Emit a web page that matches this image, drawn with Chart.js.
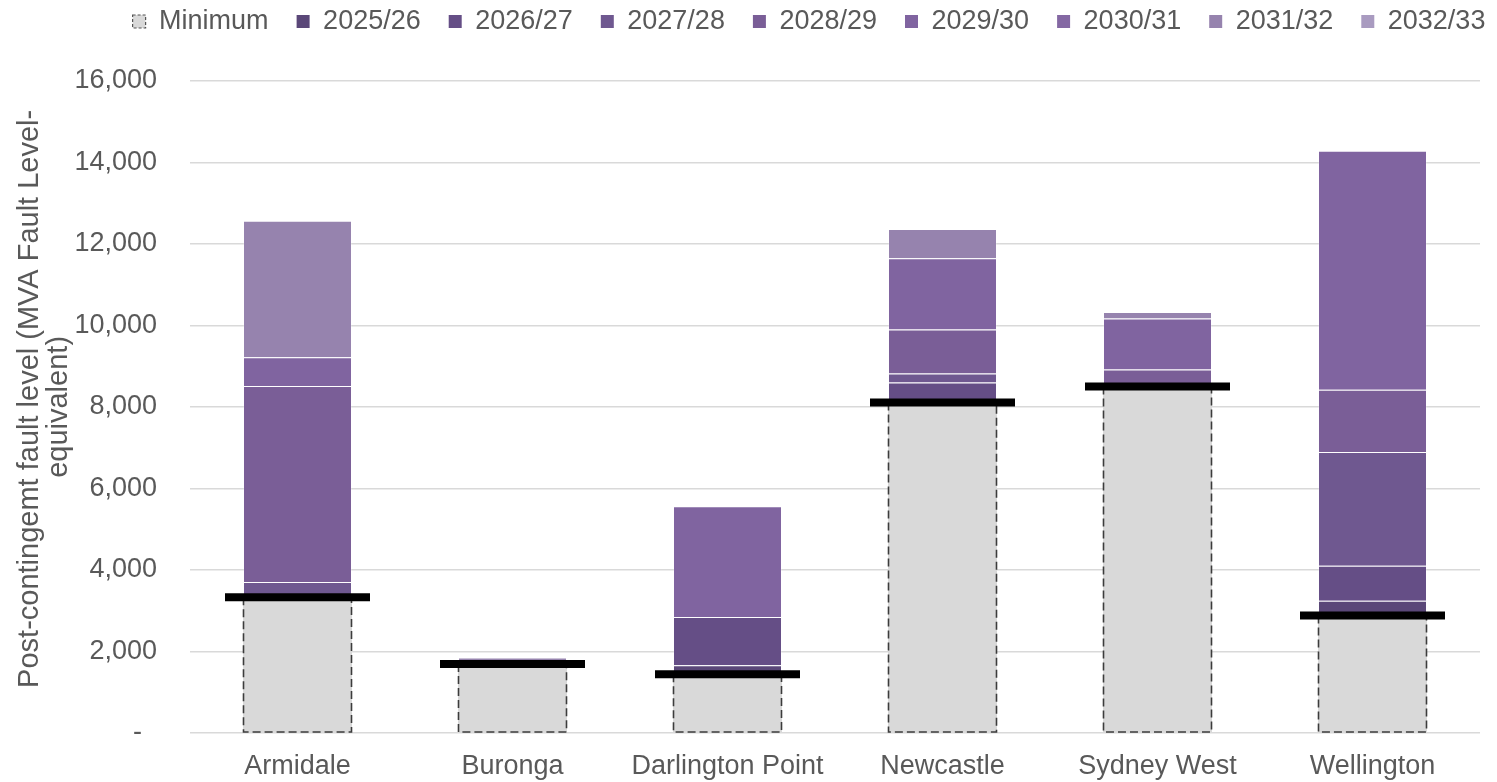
<!DOCTYPE html>
<html>
<head>
<meta charset="utf-8">
<title>Post-contingent fault level by substation</title>
<script src="https://cdn.jsdelivr.net/npm/chart.js@4/dist/chart.umd.min.js"></script>
<style>
  html, body { margin: 0; padding: 0; background: #ffffff; }
  #wrap { width: 1497px; height: 782px; position: relative; }
</style>
</head>
<body>
<div id="wrap"><canvas id="chart"></canvas></div>
<script>
// Substations along the category axis
const substations = ['Armidale', 'Buronga', 'Darlington Point', 'Newcastle', 'Sydney West', 'Wellington'];

// Minimum post-contingent fault level (MVA fault level-equivalent)
const minimumLevel = [3330, 1690, 1440, 8110, 8500, 2880];

// Additional fault level added in each year, stacked above the minimum
const yearLabels = ['2025/26', '2026/27', '2027/28', '2028/29', '2029/30', '2030/31', '2031/32', '2032/33'];
const add2025 = [0, 0, 220, 0, 0, 360];
const add2026 = [0, 0, 1180, 490, 0, 860];
const add2027 = [370, 0, 0, 220, 0, 2790];
const add2028 = [4810, 0, 0, 1080, 420, 1530];
const add2029 = [710, 0, 2720, 1750, 1250, 5870];
const add2030 = [0, 0, 0, 0, 0, 0];
const add2031 = [3350, 160, 0, 720, 160, 0];
const add2032 = [0, 0, 0, 0, 0, 0];

// Y-axis tick values
const yTicks = [0, 2000, 4000, 6000, 8000, 10000, 12000, 14000, 16000];

const yearSeries = [add2025, add2026, add2027, add2028, add2029, add2030, add2031, add2032];
const yearColours = ['#5a4778', '#654e86', '#6f5890', '#7a5e97', '#8064a0', '#8468a3', '#9683ae', '#a99bc0'];

const FONT = "'Liberation Sans', Arial, sans-serif";
const TEXT = '#595959';

const datasets = [
  {
    label: 'Minimum',
    data: minimumLevel,
    backgroundColor: '#d9d9d9',
    borderWidth: 0,
    stack: 'levels'
  }
];
yearLabels.forEach((lab, i) => {
  datasets.push({
    label: lab,
    data: yearSeries[i],
    backgroundColor: yearColours[i],
    borderColor: 'rgba(255,255,255,0.22)',
    borderWidth: 1,
    stack: 'levels'
  });
});
const markerIndex = datasets.length;
// Thick black marker at the minimum level of each substation
datasets.push({
  type: 'line',
  label: 'Minimum marker',
  data: minimumLevel,
  showLine: false,
  pointStyle: 'line',
  pointRadius: 72.5,
  pointHoverRadius: 72.5,
  pointBorderWidth: 8,
  pointHoverBorderWidth: 8,
  pointBorderColor: '#000000',
  pointBackgroundColor: '#000000',
  stack: 'marker',
  order: -1
});

// Dashed outline around the minimum bars
const minimumOutline = {
  id: 'minimumOutline',
  afterDatasetDraw(chart, args) {
    if (args.index !== 0) return;
    const ctx = chart.ctx;
    ctx.save();
    ctx.strokeStyle = '#3c3c3c';
    ctx.lineWidth = 1.6;
    ctx.setLineDash([8, 4]);
    args.meta.data.forEach(bar => {
      const p = bar.getProps(['x', 'y', 'base', 'width'], true);
      const l = Math.round(p.x - p.width / 2) + 0.5;
      const r = Math.round(p.x + p.width / 2) - 0.5;
      ctx.beginPath();
      ctx.moveTo(l, p.y);
      ctx.lineTo(l, p.base);
      ctx.lineTo(r, p.base);
      ctx.lineTo(r, p.y);
      ctx.stroke();
    });
    ctx.restore();
  }
};

// Places the legend row above the plot
const legendPlacement = {
  id: 'legendPlacement',
  afterLayout(chart) {
    const lg = chart.legend;
    if (!lg) return;
    lg.left += 69;
    lg.right += 69;
    lg.top -= 36;
    lg.bottom -= 36;
  }
};

new Chart(document.getElementById('chart'), {
  type: 'bar',
  data: { labels: substations, datasets: datasets },
  plugins: [minimumOutline, legendPlacement],
  options: {
    responsive: true,
    maintainAspectRatio: false,
    animation: false,
    layout: { autoPadding: false, padding: { left: 0, right: 17, top: 16, bottom: 0 } },
    datasets: {
      bar: { categoryPercentage: 1.0, barPercentage: 0.507 }
    },
    plugins: {
      tooltip: { enabled: false },
      legend: {
        position: 'top',
        align: 'center',
        maxHeight: 79,
        labels: {
          font: { family: FONT, size: 27 },
          color: TEXT,
          boxWidth: 13,
          boxHeight: 13,
          padding: 28,
          filter: item => item.datasetIndex !== markerIndex,
          generateLabels(chart) {
            const items = Chart.defaults.plugins.legend.labels.generateLabels(chart);
            items.forEach(it => {
              if (it.datasetIndex === 0) {
                it.lineWidth = 1.2;
                it.strokeStyle = '#555555';
                it.lineDash = [3, 2];
              } else {
                it.lineWidth = 0;
              }
            });
            return items;
          }
        }
      }
    },
    scales: {
      x: {
        stacked: true,
        grid: { display: false },
        border: { display: false },
        afterFit(scale) { scale.height = 49; },
        ticks: { font: { family: FONT, size: 27 }, color: TEXT, padding: 10 }
      },
      y: {
        stacked: true,
        min: 0,
        max: 16000,
        afterBuildTicks(scale) {
          scale.ticks = yTicks.map(v => ({ value: v }));
        },
        afterFit(scale) { scale.width = 190; },
        grid: { color: '#d9d9d9', lineWidth: 1.5, drawTicks: false },
        border: { display: false },
        ticks: {
          font: { family: FONT, size: 27 },
          color: TEXT,
          padding: 33,
          callback: v => (v === 0 ? '-  ' : v.toLocaleString('en-US'))
        },
        title: {
          display: true,
          text: ['  Post-contingemt fault level (MVA Fault Level-', 'equivalent)'],
          font: { family: FONT, size: 29, lineHeight: 0.98 },
          color: TEXT,
          padding: { top: 16, bottom: 0 }
        }
      }
    }
  }
});
</script>
</body>
</html>
